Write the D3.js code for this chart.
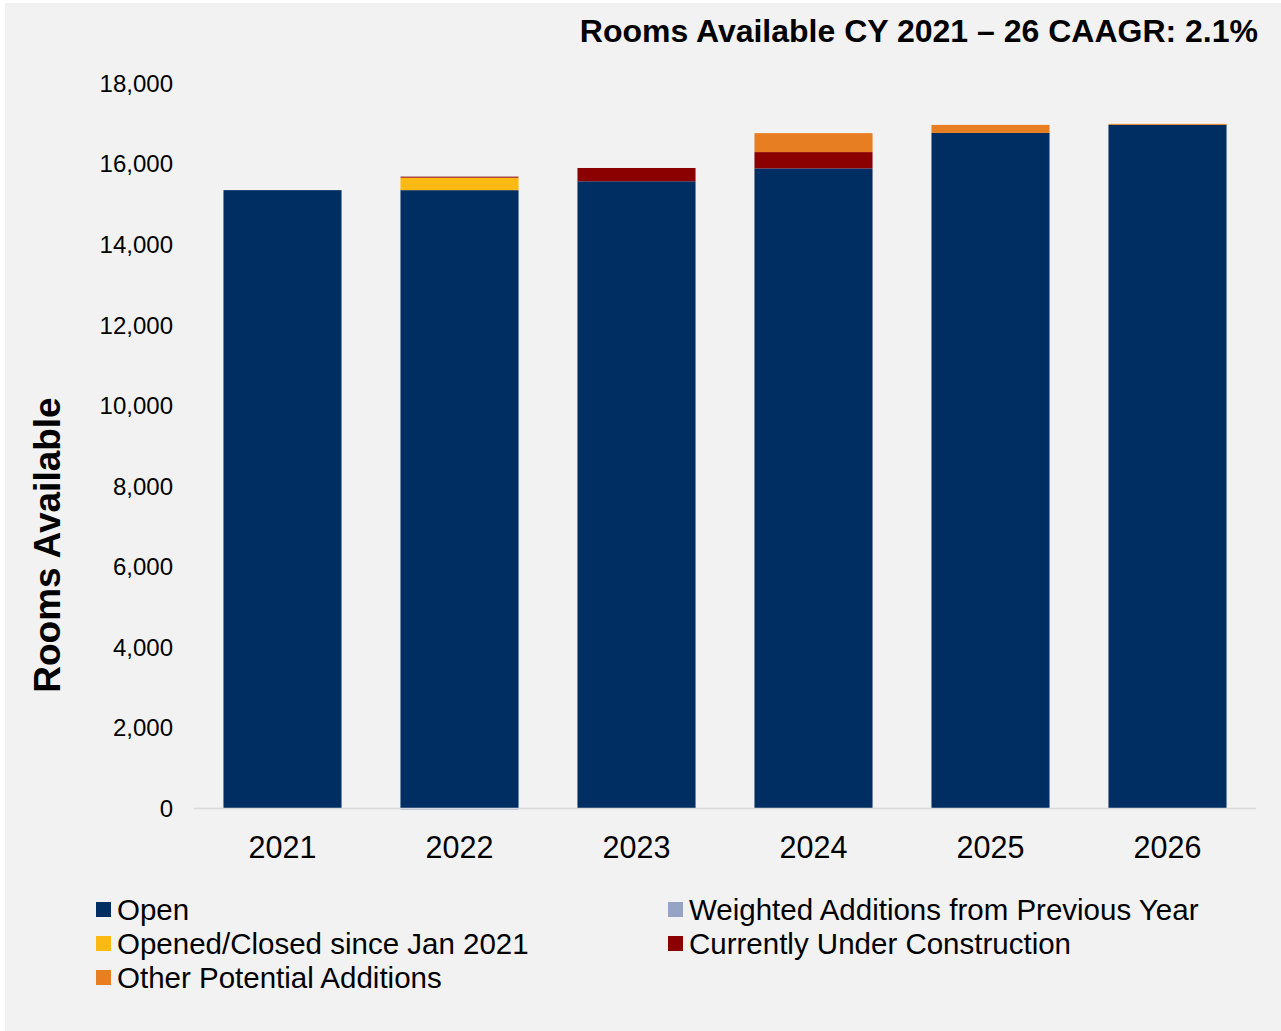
<!DOCTYPE html>
<html><head><meta charset="utf-8">
<script src="https://cdn.jsdelivr.net/npm/d3@7"></script>
<style>body{margin:0;background:#fff;font-family:"Liberation Sans",Arial,sans-serif;}</style>
</head><body>
<svg id="c" width="1281" height="1031"></svg>
<script>
const years = ["2021","2022","2023","2024","2025","2026"];
const seriesNames = ["Open","Weighted Additions from Previous Year","Opened/Closed since Jan 2021","Currently Under Construction","Other Potential Additions"];
const openVals = [15340, 15340, 15560, 15880, 16760, 16960];
const weightedVals = [0, -40, 0, 0, 0, 0];
const openedClosedVals = [0, 310, 0, 0, 0, 0];
const underConstructionVals = [0, 25, 330, 405, 0, 0];
const otherPotentialVals = [0, 0, 0, 470, 200, 25];
const yTicks = [0,2000,4000,6000,8000,10000,12000,14000,16000,18000];
const colors = ["#002d62","#95a3c5","#fdb913","#8b0000","#e87e22"];

const seriesVals = [openVals, weightedVals, openedClosedVals, underConstructionVals, otherPotentialVals];
const svg = d3.select("#c");
svg.append("rect").attr("x",5).attr("y",3).attr("width",1276).attr("height",1028).attr("fill","#f2f2f2");

const x = d3.scaleBand().domain(years).range([194,1256]).paddingInner(0.333).paddingOuter(0.1665);
const y = d3.scaleLinear().domain([0,18000]).range([808,83]);

years.forEach((yr,i)=>{
  let pos=0, neg=0;
  seriesVals.forEach((vals,s)=>{
    const v = vals[i];
    if(!v) return;
    let y0,y1;
    if(v>0){y0=pos;y1=pos+v;pos=y1;} else {y0=neg+v;y1=neg;neg=y0;}
    svg.append("rect").attr("x",x(yr)).attr("width",x.bandwidth())
      .attr("y",y(y1)).attr("height",Math.max(y(y0)-y(y1),1))
      .attr("fill",colors[s]);
  });
});

svg.append("line").attr("x1",194).attr("x2",1256).attr("y1",y(0)+0.5).attr("y2",y(0)+0.5)
  .attr("stroke","#d9d9d9").attr("stroke-width",1.5);

const yAxis = d3.axisLeft(y).tickValues(yTicks).tickFormat(d3.format(",")).tickSize(0).tickPadding(0);
const ya = svg.append("g").attr("transform","translate(173,0)").call(yAxis);
ya.select(".domain").remove();
ya.selectAll("text").attr("font-size",24).attr("fill","#000").attr("font-family","Liberation Sans, Arial, sans-serif").attr("dy","0.35em");

const xAxis = d3.axisBottom(x).tickSize(0).tickPadding(0);
const xa = svg.append("g").attr("transform","translate(0,847)").call(xAxis);
xa.select(".domain").remove();
xa.selectAll("text").attr("font-size",30.5).attr("fill","#000").attr("font-family","Liberation Sans, Arial, sans-serif").attr("y",0).attr("dy","0.36em");

svg.append("text").attr("x",1258).attr("y",42).attr("text-anchor","end")
  .attr("font-size",32).attr("font-weight","bold").text("Rooms Available CY 2021 – 26 CAAGR: 2.1%");

svg.append("text").attr("transform","translate(60,545) rotate(-90)").attr("text-anchor","middle")
  .attr("font-size",37).attr("font-weight","bold").text("Rooms Available");

const legendPos = [[96,909],[668,909],[96,943],[668,943],[96,977]];
[0,1,2,3,4].forEach((s,k)=>{
  const [lx,ly]=legendPos[k];
  svg.append("rect").attr("x",lx).attr("y",ly-7).attr("width",15).attr("height",15).attr("fill",colors[s]);
  svg.append("text").attr("x",lx+21).attr("y",ly).attr("dy","0.36em").attr("font-size",29.5).text(seriesNames[s]);
});
</script>
</body></html>
